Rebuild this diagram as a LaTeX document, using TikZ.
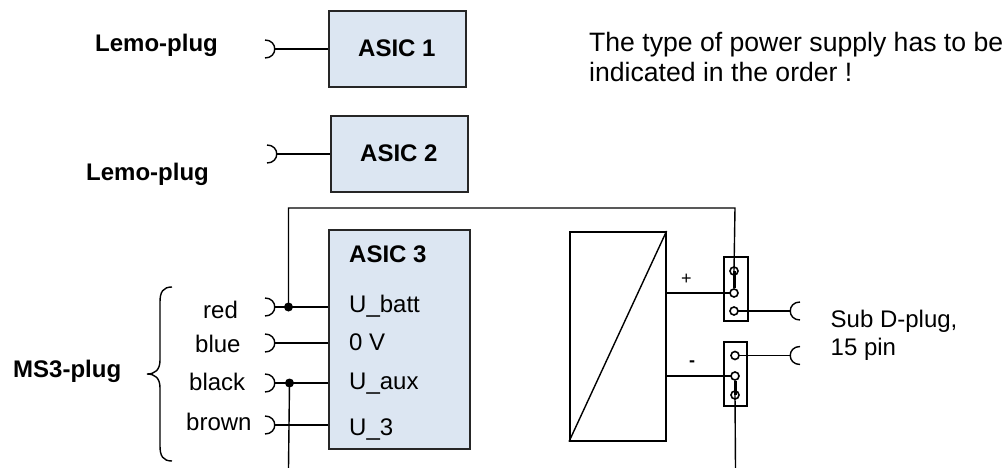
\documentclass[tikz,border=0pt]{standalone}
\usepackage{fontspec}
\setmainfont{Liberation Sans}
\usetikzlibrary{calc}
\definecolor{boxfill}{HTML}{DCE6F2}
\tikzset{
  x=1pt,y=-1pt,
  wire/.style={draw=black,line width=1.4pt},
  asicbox/.style={draw=black!85,line width=1.6pt,fill=boxfill,anchor=north west,inner sep=0pt},
  plainbox/.style={draw=black,line width=1.6pt,fill=white,anchor=north west,inner sep=0pt},
  txt/.style={font=\fontsize{24}{28}\selectfont,inner sep=0pt,text=black,anchor=base west},
  boldtxt/.style={txt,font=\fontsize{24}{28}\selectfont\bfseries},
  bigtxt/.style={txt,font=\fontsize{26.6}{31}\selectfont},
  contact/.style={circle,draw=black,fill=white,line width=1.6pt,minimum size=8pt,inner sep=0pt},
  junction/.style={circle,fill=black,minimum size=9pt,inner sep=0pt},
  plugarc/.style={line width=1.4pt}
}
\newcommand{\plugR}[1]{\draw[plugarc] ($(#1)+(-10,-9)$) .. controls ($(#1)+(3,-9)$) and ($(#1)+(3,9)$) .. ($(#1)+(-10,9)$);}
\newcommand{\plugL}[1]{\draw[plugarc] ($(#1)+(10,-9)$) .. controls ($(#1)+(-3,-9)$) and ($(#1)+(-3,9)$) .. ($(#1)+(10,9)$);}
\begin{document}
\begin{tikzpicture}
\useasboundingbox (0,0) rectangle (1007,468);
% boxes
\node[asicbox,minimum width=137pt,minimum height=76pt] (a1) at (328,10) {};
\node[asicbox,minimum width=137pt,minimum height=76pt] (a2) at (330,115) {};
\node[asicbox,minimum width=141pt,minimum height=219pt] (a3) at (328,229) {};
\node[plainbox,minimum width=96pt,minimum height=209pt] (conv) at (569,231) {};
\draw[wire] (conv.south west) -- (conv.north east);
\node[plainbox,minimum width=24pt,minimum height=64pt] (sw1) at (723,256) {};
\node[plainbox,minimum width=23pt,minimum height=64pt] (sw2) at (723,341) {};
% plugs
\coordinate (p1) at (275,49);
\coordinate (p2) at (277,154);
\coordinate (pr) at (275,307);
\coordinate (pb) at (275,343);
\coordinate (pk) at (275,383);
\coordinate (pn) at (275,425);
\coordinate (qa) at (790,311);
\coordinate (qb) at (790,355.5);
\plugR{p1}\plugR{p2}\plugR{pr}\plugR{pb}\plugR{pk}\plugR{pn}\plugL{qa}\plugL{qb}
\draw[wire] (p1) -- (p1 -| a1.west);
\draw[wire] (p2) -- (p2 -| a2.west);
\draw[wire] (pr) -- (pr -| a3.west);
\draw[wire] (pb) -- (pb -| a3.west);
\draw[wire] (pk) -- (pk -| a3.west);
\draw[wire] (pn) -- (pn -| a3.west);
% junctions
\node[junction] (jr) at (288.5,307) {};
\node[junction] (jk) at (289.5,383) {};
\coordinate (bl) at (288.5,468);
\coordinate (br) at (735.5,468);
% contacts
\coordinate (c1g) at (734,271);
\coordinate (c2g) at (734,293);
\coordinate (c3g) at (734,311);
\coordinate (c4g) at (735,355.5);
\coordinate (c5g) at (735,376);
\coordinate (c6g) at (735,395);
\draw[wire] (conv.east |- c2g) -- (c2g);
\draw[wire] (conv.east |- c5g) -- (c5g);
\draw[wire] (c3g) -- (qa);
\draw[wire] (c4g) -- (qb);
\node[contact] (c1) at (c1g) {};
\node[contact] (c2) at (c2g) {};
\node[contact] (c3) at (c3g) {};
\node[contact] (c4) at (c4g) {};
\node[contact] (c5) at (c5g) {};
\node[contact] (c6) at (c6g) {};
\draw[wire] (jr.center) -- (288.5,208) -- (735,208) -- (c1g);
\draw[wire] (jk.center) -- (bl);
\draw[wire] (c6g) -- (br);
\draw[line width=3pt] (c1g) -- (c2);
\draw[line width=3pt] (c5) -- (c6g);
% brace
\draw[line width=1.4pt] (172,287) .. controls (163,287) and (160,292) .. (160,302) -- (160,360) .. controls (160,370) and (155,374) .. (147,374) .. controls (155,374) and (160,378) .. (160,388) -- (160,446) .. controls (160,456) and (163,461) .. (172,461);
% text
\node[boldtxt] (t1) at (95,52) {Lemo-plug};
\node[boldtxt] (t2) at (86,180) {Lemo-plug};
\node[boldtxt] (t3) at (358,57) {ASIC 1};
\node[boldtxt] (t4) at (360,162) {ASIC 2};
\node[boldtxt] (t5) at (349,262) {ASIC 3};
\node[boldtxt] (t6) at (13,377) {MS3-plug};
\node[txt] (t7) at (349,312) {U\_batt};
\node[txt] (t8) at (349,350) {0 V};
\node[txt] (t9) at (349,389) {U\_aux};
\node[txt] (t10) at (349,435) {U\_3};
\node[txt] (t11) at (203,318) {red};
\node[txt] (t12) at (195,352) {blue};
\node[txt] (t13) at (189,390) {black};
\node[txt] (t14) at (186,430) {brown};
\node[txt] (t15) at (830.5,327.5) {Sub D-plug,};
\node[txt] (t16) at (830.5,355.5) {15 pin};
\node[txt,font=\fontsize{18}{20}\selectfont] (t17) at (681,284) {+};
\node[txt,font=\fontsize{18}{20}\selectfont\bfseries] (t18) at (689,366) {-};
\node[bigtxt] (t19) at (589,52) {The type of power supply has to be};
\node[bigtxt] (t20) at (589,82) {indicated in the order !};
\end{tikzpicture}
\end{document}
